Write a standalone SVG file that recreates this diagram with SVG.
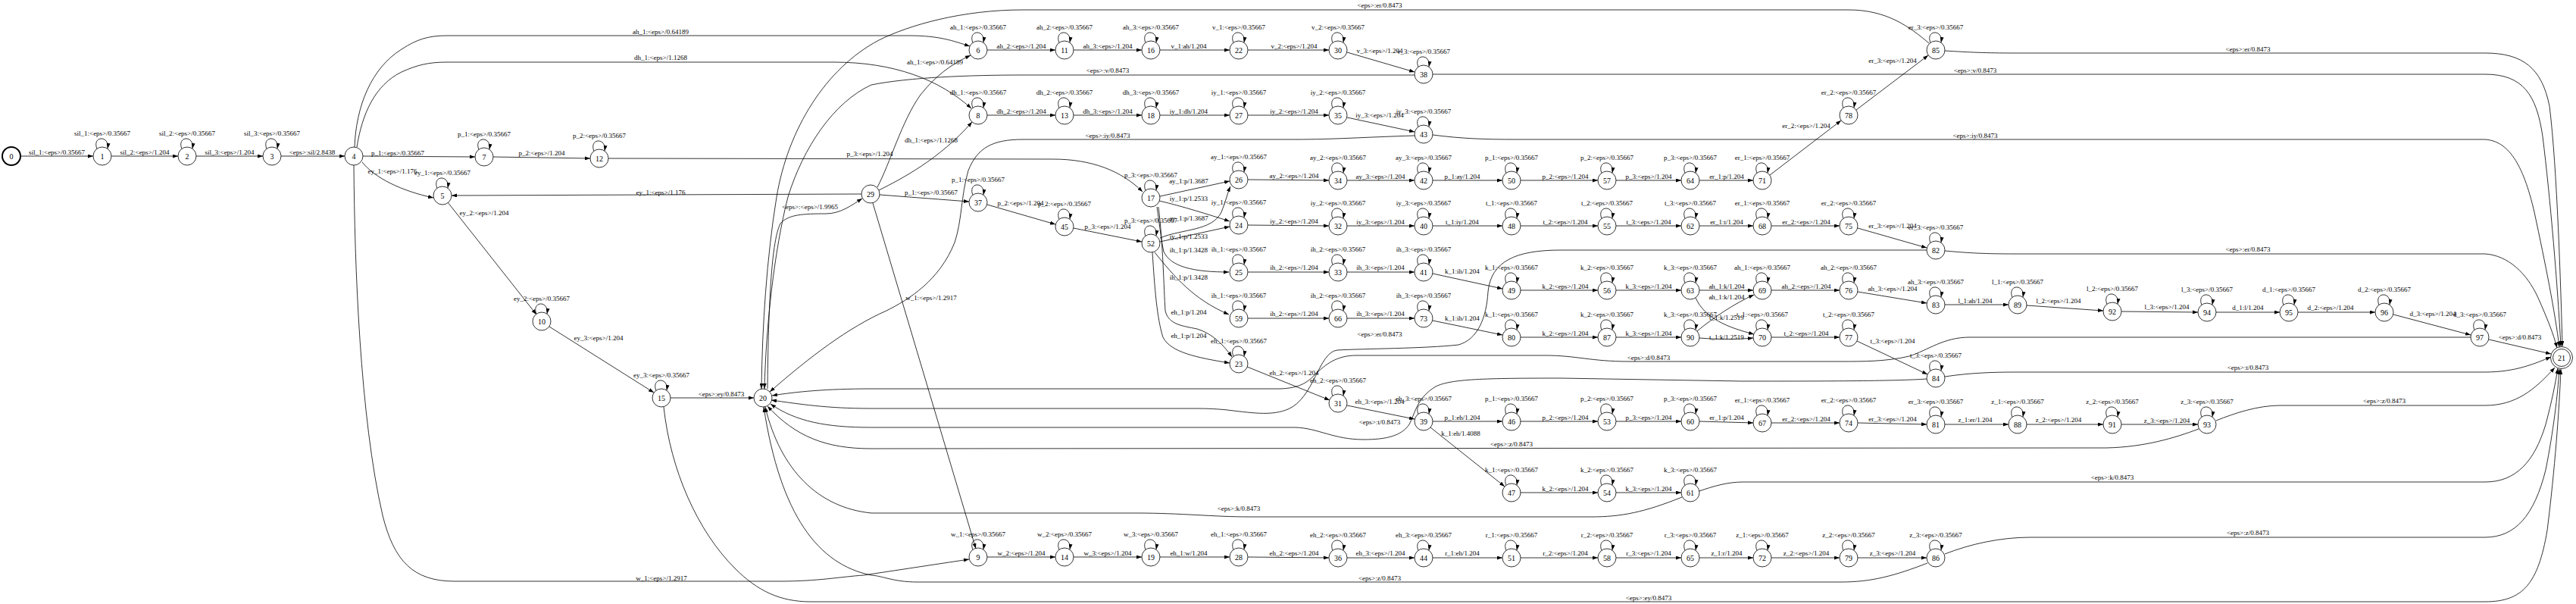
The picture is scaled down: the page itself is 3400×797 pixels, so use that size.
<svg xmlns="http://www.w3.org/2000/svg" width="3400" height="797" viewBox="0 0 3400 797">
<style>
.e{fill:none;stroke:#000;stroke-width:0.8;marker-end:url(#ah)}
.n{fill:#fff;stroke:#000;stroke-width:0.8}
text{font-family:"Liberation Serif","Times New Roman",serif;font-size:9px;text-anchor:middle;fill:#000}
.nt{font-size:10px}
</style>
<defs>
<marker id="ah" viewBox="0 0 7 5" refX="7" refY="2.5" markerWidth="7" markerHeight="5" markerUnits="userSpaceOnUse" orient="auto"><path d="M0,0 L7,2.5 L0,5 z" fill="#000"/></marker>
<path id="lp" class="e" d="M-7,-9.5 C-14,-27 10,-28 7,-10"/>
</defs>
<rect width="3400" height="797" fill="#fff"/>
<g id="connectors">
<path class="e" d="M27,206 L123,206"/>
<path class="e" d="M147,206 L235,206"/>
<path class="e" d="M259,206 L347,206"/>
<path class="e" d="M371,206 L455,206"/>
<path class="e" d="M479,206 L627,207"/>
<path class="e" d="M478,214 C495,235 530,252 572,261"/>
<path class="e" d="M468,194 C470,140 490,90 530,65 C550,52 565,47 590,47 L1200,47 C1240,47 1258,54 1280,61"/>
<path class="e" d="M471,194 C478,150 495,112 530,95 C550,86 565,82 590,82 L1100,82 C1180,82 1240,105 1282,143"/>
<path class="e" d="M651,207 L779,209"/>
<path class="e" d="M803,209 L1390,210 C1440,210 1480,225 1508,253"/>
<path class="e" d="M467,218 C468,350 475,550 505,680 C520,740 545,767 600,767 L1030,767 C1080,767 1110,761 1140,759 L1279,738"/>
<path class="e" d="M1137,256 L596,258"/>
<path class="e" d="M591,267 L708,415"/>
<path class="e" d="M725,431 L863,518"/>
<path class="e" d="M885,525 L995,525"/>
<path class="e" d="M1013,513 C1014,420 1017,320 1030,295 C1040,283 1060,282 1090,282 C1110,282 1125,270 1138,262"/>
<path class="e" d="M1158,247 C1175,215 1190,160 1215,125 C1235,100 1255,85 1281,73"/>
<path class="e" d="M1160,251 C1190,236 1240,210 1283,161"/>
<path class="e" d="M1161,257 L1279,266"/>
<path class="e" d="M1152,268 L1288,724"/>
<path class="e" d="M1303,66 L1393,66"/>
<path class="e" d="M1417,66 L1507,66"/>
<path class="e" d="M1531,66 L1623,66"/>
<path class="e" d="M1647,66 L1754,66"/>
<path class="e" d="M1778,69 L1867,95"/>
<path class="e" d="M1303,152 L1393,152"/>
<path class="e" d="M1417,152 L1507,152"/>
<path class="e" d="M1531,152 L1623,152"/>
<path class="e" d="M1647,152 L1754,152"/>
<path class="e" d="M1778,155 L1867,174"/>
<path class="e" d="M1303,270 L1393,296"/>
<path class="e" d="M1417,301 L1507,319"/>
<path class="e" d="M1531,259 L1623,239"/>
<path class="e" d="M1530,265 C1560,272 1595,283 1623,292"/>
<path class="e" d="M1531,314 C1560,302 1600,305 1612,280 C1618,265 1620,255 1624,246"/>
<path class="e" d="M1531,319 L1623,299"/>
<path class="e" d="M1527,273 C1531,300 1533,320 1536,332 C1545,352 1575,359 1622,359"/>
<path class="e" d="M1524,333 C1550,365 1575,395 1622,415"/>
<path class="e" d="M1529,273 C1535,320 1536,380 1538,410 C1542,428 1560,430 1580,434 C1600,440 1615,455 1626,471"/>
<path class="e" d="M1521,333 C1524,380 1527,420 1535,445 C1545,465 1580,472 1623,479"/>
<path class="e" d="M1647,237 L1754,238"/>
<path class="e" d="M1647,297 L1754,298"/>
<path class="e" d="M1647,359 L1754,359"/>
<path class="e" d="M1647,420 L1754,420"/>
<path class="e" d="M1646,484 L1755,528"/>
<path class="e" d="M1303,735 L1393,735"/>
<path class="e" d="M1417,735 L1507,735"/>
<path class="e" d="M1531,735 L1623,735"/>
<path class="e" d="M1647,735 L1754,736"/>
<path class="e" d="M1778,238 L1867,238"/>
<path class="e" d="M1891,238 L1983,238"/>
<path class="e" d="M2007,238 L2109,238"/>
<path class="e" d="M2133,238 L2219,238"/>
<path class="e" d="M2243,238 L2314,238"/>
<path class="e" d="M2336,231 L2430,159"/>
<path class="e" d="M2450,145 L2545,73"/>
<path class="e" d="M1778,298 L1867,298"/>
<path class="e" d="M1891,298 L1983,298"/>
<path class="e" d="M2007,298 L2109,298"/>
<path class="e" d="M2133,298 L2219,298"/>
<path class="e" d="M2243,298 L2314,298"/>
<path class="e" d="M2338,298 L2428,298"/>
<path class="e" d="M2452,301 L2543,327"/>
<path class="e" d="M1778,359 L1867,359"/>
<path class="e" d="M1891,361 L1983,381"/>
<path class="e" d="M2007,383 L2109,383"/>
<path class="e" d="M2133,383 L2219,383"/>
<path class="e" d="M2243,383 L2314,383"/>
<path class="e" d="M2240,437 C2260,420 2290,400 2315,389"/>
<path class="e" d="M2238,393 C2250,420 2280,432 2315,441"/>
<path class="e" d="M2243,446 C2270,448 2290,448 2314,446"/>
<path class="e" d="M2338,383 L2428,383"/>
<path class="e" d="M2452,385 L2543,400"/>
<path class="e" d="M2567,402 L2651,402"/>
<path class="e" d="M2675,403 L2776,410"/>
<path class="e" d="M2800,411 L2901,412"/>
<path class="e" d="M2925,412 L3009,412"/>
<path class="e" d="M3033,412 L3135,412"/>
<path class="e" d="M3159,415 L3261,442"/>
<path class="e" d="M3285,448 L3367,467"/>
<path class="e" d="M1778,420 L1867,420"/>
<path class="e" d="M1891,423 L1983,442"/>
<path class="e" d="M2007,445 L2109,445"/>
<path class="e" d="M2133,445 L2219,445"/>
<path class="e" d="M2338,445 L2428,445"/>
<path class="e" d="M2451,450 L2544,494"/>
<path class="e" d="M1778,535 L1867,553"/>
<path class="e" d="M1891,556 L1983,556"/>
<path class="e" d="M2007,556 L2109,556"/>
<path class="e" d="M2133,556 L2219,556"/>
<path class="e" d="M2243,556 L2314,558"/>
<path class="e" d="M2338,558 L2428,558"/>
<path class="e" d="M2452,558 L2543,560"/>
<path class="e" d="M2567,560 L2651,560"/>
<path class="e" d="M2675,560 L2776,560"/>
<path class="e" d="M2800,560 L2901,560"/>
<path class="e" d="M1888,564 L1986,642"/>
<path class="e" d="M2007,650 L2109,650"/>
<path class="e" d="M2133,650 L2219,650"/>
<path class="e" d="M1778,736 L1867,736"/>
<path class="e" d="M1891,736 L1983,736"/>
<path class="e" d="M2007,736 L2109,736"/>
<path class="e" d="M2133,736 L2219,736"/>
<path class="e" d="M2243,736 L2314,736"/>
<path class="e" d="M2338,736 L2428,736"/>
<path class="e" d="M2452,736 L2543,736"/>
<path class="e" d="M2567,67 C2600,69 2620,70 2660,70 L3280,70 C3330,70 3355,90 3365,140 C3375,220 3380,380 3382,457"/>
<path class="e" d="M1891,98 L3280,98 C3330,98 3348,125 3356,180 C3366,260 3376,380 3380,457"/>
<path class="e" d="M1891,178 C1930,183 1960,184 2000,184 L3280,184 C3310,186 3330,215 3345,280 C3360,350 3372,410 3378,458"/>
<path class="e" d="M2567,331 C2600,334 2620,335 2660,335 L3280,335 C3310,337 3335,360 3350,393 C3362,420 3370,440 3375,459"/>
<path class="e" d="M2567,497 C2600,492 2630,491 2660,491 L3280,491 C3320,491 3345,480 3367,471"/>
<path class="e" d="M2925,555 C2950,545 2980,535 3010,535 L3280,535 C3320,535 3345,515 3372,485"/>
<path class="e" d="M2243,648 C2260,642 2280,636 2300,636 L3280,636 C3320,636 3345,610 3360,560 C3368,530 3373,505 3376,486"/>
<path class="e" d="M2567,731 C2600,718 2640,709 2680,709 L3280,709 C3320,709 3345,680 3360,620 C3370,570 3376,520 3378,487"/>
<path class="e" d="M876,537 C885,620 920,700 970,750 C1000,780 1030,794 1070,794 L3280,794 C3330,794 3350,770 3362,700 C3372,620 3378,540 3380,487"/>
<path class="e" d="M2546,57 C2520,35 2490,13 2440,13 L1350,13 C1270,13 1200,33 1160,53 C1090,90 1040,170 1025,260 C1012,340 1006,430 1005,513"/>
<path class="e" d="M1867,99 L1350,99 C1280,99 1200,102 1150,112 C1100,135 1060,195 1040,260 C1022,330 1011,430 1009,513"/>
<path class="e" d="M1867,179 C1800,181 1760,184 1710,184 L1350,184 C1310,184 1290,195 1278,225 C1268,260 1270,290 1260,320 C1240,370 1200,395 1170,410 C1120,432 1070,470 1016,517"/>
<path class="e" d="M3261,445 L2600,445 C2565,445 2545,462 2520,470 C2490,477 2460,477 2430,477 L2150,477 C2100,477 2080,469 2040,469 L1790,469 C1765,469 1750,480 1735,495 C1725,505 1715,512 1690,513 L1150,513 C1090,513 1050,517 1019,522"/>
<path class="e" d="M2543,330 L2060,330 C2000,330 1968,345 1964,385 C1962,420 1950,448 1925,455 C1880,460 1800,460 1765,462 C1740,465 1735,525 1700,540 C1680,548 1660,546 1620,541 C1600,539 1590,539 1570,539 L1150,539 C1090,539 1055,533 1018,528"/>
<path class="e" d="M2543,500 C2500,503 2400,503 2300,503 L2060,499 C1960,499 1915,500 1895,510 C1870,525 1868,545 1860,560 C1850,575 1830,580 1800,580 C1760,580 1740,565 1710,564 L1150,564 C1090,564 1050,556 1017,533"/>
<path class="e" d="M2902,566 C2870,578 2830,590 2780,591 L1150,592 C1090,592 1050,576 1013,536"/>
<path class="e" d="M2220,656 C2170,676 2140,682 2100,682 L1650,682 C1600,682 1560,677 1500,677 L1150,677 C1080,670 1030,620 1010,537"/>
<path class="e" d="M2544,743 C2500,760 2470,768 2430,768 L1210,768 C1180,768 1165,760 1150,759 C1080,745 1030,680 1008,537"/>
<use href="#lp" x="135" y="206"/><use href="#lp" x="247" y="206"/><use href="#lp" x="359" y="206"/>
<use href="#lp" x="584" y="258"/><use href="#lp" x="639" y="207"/><use href="#lp" x="791" y="209"/>
<use href="#lp" x="715" y="424"/><use href="#lp" x="873" y="525"/>
<use href="#lp" x="1291" y="66"/><use href="#lp" x="1405" y="66"/><use href="#lp" x="1519" y="66"/><use href="#lp" x="1635" y="66"/>
<use href="#lp" x="1291" y="152"/><use href="#lp" x="1405" y="152"/><use href="#lp" x="1519" y="152"/><use href="#lp" x="1635" y="152"/>
<use href="#lp" x="1291" y="267"/><use href="#lp" x="1405" y="299"/><use href="#lp" x="1519" y="261"/><use href="#lp" x="1519" y="321"/>
<use href="#lp" x="1635" y="237"/><use href="#lp" x="1635" y="297"/><use href="#lp" x="1635" y="359"/><use href="#lp" x="1635" y="420"/><use href="#lp" x="1635" y="480"/>
<use href="#lp" x="1291" y="735"/><use href="#lp" x="1405" y="735"/><use href="#lp" x="1519" y="735"/><use href="#lp" x="1635" y="735"/>
<use href="#lp" x="1766" y="66"/><use href="#lp" x="1879" y="98"/><use href="#lp" x="1766" y="152"/><use href="#lp" x="1879" y="177"/>
<use href="#lp" x="1766" y="238"/><use href="#lp" x="1879" y="238"/><use href="#lp" x="1995" y="238"/><use href="#lp" x="2121" y="238"/><use href="#lp" x="2231" y="238"/><use href="#lp" x="2326" y="238"/><use href="#lp" x="2440" y="152"/><use href="#lp" x="2555" y="66"/>
<use href="#lp" x="1766" y="298"/><use href="#lp" x="1879" y="298"/><use href="#lp" x="1995" y="298"/><use href="#lp" x="2121" y="298"/><use href="#lp" x="2231" y="298"/><use href="#lp" x="2326" y="298"/><use href="#lp" x="2440" y="298"/><use href="#lp" x="2555" y="330"/>
<use href="#lp" x="1766" y="359"/><use href="#lp" x="1879" y="359"/><use href="#lp" x="1995" y="383"/><use href="#lp" x="2121" y="383"/><use href="#lp" x="2231" y="383"/><use href="#lp" x="2326" y="383"/><use href="#lp" x="2440" y="383"/><use href="#lp" x="2555" y="402"/><use href="#lp" x="2663" y="402"/><use href="#lp" x="2788" y="411"/><use href="#lp" x="2913" y="412"/><use href="#lp" x="3021" y="412"/><use href="#lp" x="3147" y="412"/><use href="#lp" x="3273" y="445"/>
<use href="#lp" x="1766" y="420"/><use href="#lp" x="1879" y="420"/><use href="#lp" x="1995" y="445"/><use href="#lp" x="2121" y="445"/><use href="#lp" x="2231" y="445"/><use href="#lp" x="2326" y="445"/><use href="#lp" x="2440" y="445"/><use href="#lp" x="2555" y="499"/>
<use href="#lp" x="1766" y="532"/><use href="#lp" x="1879" y="556"/><use href="#lp" x="1995" y="556"/><use href="#lp" x="2121" y="556"/><use href="#lp" x="2231" y="556"/><use href="#lp" x="2326" y="558"/><use href="#lp" x="2440" y="558"/><use href="#lp" x="2555" y="560"/><use href="#lp" x="2663" y="560"/><use href="#lp" x="2788" y="560"/><use href="#lp" x="2913" y="560"/>
<use href="#lp" x="1995" y="650"/><use href="#lp" x="2121" y="650"/><use href="#lp" x="2231" y="650"/>
<use href="#lp" x="1766" y="736"/><use href="#lp" x="1879" y="736"/><use href="#lp" x="1995" y="736"/><use href="#lp" x="2121" y="736"/><use href="#lp" x="2231" y="736"/><use href="#lp" x="2326" y="736"/><use href="#lp" x="2440" y="736"/><use href="#lp" x="2555" y="736"/>
<text x="75" y="204">sil_1:&lt;eps&gt;/0.35667</text>
<text x="191" y="204">sil_2:&lt;eps&gt;/1.204</text>
<text x="303" y="204">sil_3:&lt;eps&gt;/1.204</text>
<text x="412" y="204">&lt;eps&gt;:sil/2.8438</text>
<text x="525" y="205">p_1:&lt;eps&gt;/0.35667</text>
<text x="518" y="229">ey_1:&lt;eps&gt;/1.176</text>
<text x="872" y="45">ah_1:&lt;eps&gt;/0.64189</text>
<text x="872" y="79">dh_1:&lt;eps&gt;/1.1268</text>
<text x="715" y="205">p_2:&lt;eps&gt;/1.204</text>
<text x="1148" y="206">p_3:&lt;eps&gt;/1.204</text>
<text x="873" y="766">w_1:&lt;eps&gt;/1.2917</text>
<text x="872" y="257">ey_1:&lt;eps&gt;/1.176</text>
<text x="639" y="284">ey_2:&lt;eps&gt;/1.204</text>
<text x="790" y="449">ey_3:&lt;eps&gt;/1.204</text>
<text x="952" y="523">&lt;eps&gt;:ey/0.8473</text>
<text x="1069" y="276">&lt;eps&gt;:&lt;eps&gt;/1.9965</text>
<text x="1234" y="85">ah_1:&lt;eps&gt;/0.64189</text>
<text x="1229" y="188">dh_1:&lt;eps&gt;/1.1268</text>
<text x="1229" y="257">p_1:&lt;eps&gt;/0.35667</text>
<text x="1229" y="396">w_1:&lt;eps&gt;/1.2917</text>
<text x="1348" y="64">ah_2:&lt;eps&gt;/1.204</text>
<text x="1462" y="64">ah_3:&lt;eps&gt;/1.204</text>
<text x="1569" y="64">v_1:ah/1.204</text>
<text x="1708" y="64">v_2:&lt;eps&gt;/1.204</text>
<text x="1821" y="70">v_3:&lt;eps&gt;/1.204</text>
<text x="1348" y="150">dh_2:&lt;eps&gt;/1.204</text>
<text x="1462" y="150">dh_3:&lt;eps&gt;/1.204</text>
<text x="1569" y="150">iy_1:dh/1.204</text>
<text x="1708" y="150">iy_2:&lt;eps&gt;/1.204</text>
<text x="1821" y="155">iy_3:&lt;eps&gt;/1.204</text>
<text x="1347" y="271">p_2:&lt;eps&gt;/1.204</text>
<text x="1462" y="302">p_3:&lt;eps&gt;/1.204</text>
<text x="1569" y="242">ay_1:p/1.3687</text>
<text x="1569" y="265">iy_1:p/1.2533</text>
<text x="1569" y="291">ay_1:p/1.3687</text>
<text x="1569" y="315">iy_1:p/1.2533</text>
<text x="1569" y="333">ih_1:p/1.3428</text>
<text x="1569" y="369">ih_1:p/1.3428</text>
<text x="1569" y="415">eh_1:p/1.204</text>
<text x="1569" y="446">eh_1:p/1.204</text>
<text x="1708" y="235">ay_2:&lt;eps&gt;/1.204</text>
<text x="1708" y="295">iy_2:&lt;eps&gt;/1.204</text>
<text x="1708" y="356">ih_2:&lt;eps&gt;/1.204</text>
<text x="1708" y="417">ih_2:&lt;eps&gt;/1.204</text>
<text x="1708" y="495">eh_2:&lt;eps&gt;/1.204</text>
<text x="1348" y="733">w_2:&lt;eps&gt;/1.204</text>
<text x="1462" y="733">w_3:&lt;eps&gt;/1.204</text>
<text x="1569" y="733">eh_1:w/1.204</text>
<text x="1708" y="733">eh_2:&lt;eps&gt;/1.204</text>
<text x="1822" y="236">ay_3:&lt;eps&gt;/1.204</text>
<text x="1930" y="236">p_1:ay/1.204</text>
<text x="2066" y="236">p_2:&lt;eps&gt;/1.204</text>
<text x="2176" y="236">p_3:&lt;eps&gt;/1.204</text>
<text x="2279" y="236">er_1:p/1.204</text>
<text x="2384" y="169">er_2:&lt;eps&gt;/1.204</text>
<text x="2498" y="83">er_3:&lt;eps&gt;/1.204</text>
<text x="1822" y="296">iy_3:&lt;eps&gt;/1.204</text>
<text x="1930" y="296">t_1:iy/1.204</text>
<text x="2066" y="296">t_2:&lt;eps&gt;/1.204</text>
<text x="2176" y="296">t_3:&lt;eps&gt;/1.204</text>
<text x="2279" y="296">er_1:t/1.204</text>
<text x="2384" y="296">er_2:&lt;eps&gt;/1.204</text>
<text x="2498" y="301">er_3:&lt;eps&gt;/1.204</text>
<text x="1822" y="356">ih_3:&lt;eps&gt;/1.204</text>
<text x="1930" y="361">k_1:ih/1.204</text>
<text x="2066" y="381">k_2:&lt;eps&gt;/1.204</text>
<text x="2176" y="381">k_3:&lt;eps&gt;/1.204</text>
<text x="2279" y="381">ah_1:k/1.204</text>
<text x="2279" y="395">ah_1:k/1.204</text>
<text x="2279" y="422">t_1:k/1.2519</text>
<text x="2279" y="448">t_1:k/1.2519</text>
<text x="2384" y="381">ah_2:&lt;eps&gt;/1.204</text>
<text x="2498" y="384">ah_3:&lt;eps&gt;/1.204</text>
<text x="2607" y="400">l_1:ah/1.204</text>
<text x="2717" y="400">l_2:&lt;eps&gt;/1.204</text>
<text x="2860" y="408">l_3:&lt;eps&gt;/1.204</text>
<text x="2967" y="409">d_1:l/1.204</text>
<text x="3076" y="409">d_2:&lt;eps&gt;/1.204</text>
<text x="3211" y="417">d_3:&lt;eps&gt;/1.204</text>
<text x="3326" y="448">&lt;eps&gt;:d/0.8473</text>
<text x="1822" y="417">ih_3:&lt;eps&gt;/1.204</text>
<text x="1930" y="423">k_1:ih/1.204</text>
<text x="2066" y="443">k_2:&lt;eps&gt;/1.204</text>
<text x="2176" y="443">k_3:&lt;eps&gt;/1.204</text>
<text x="2384" y="443">t_2:&lt;eps&gt;/1.204</text>
<text x="2498" y="453">t_3:&lt;eps&gt;/1.204</text>
<text x="1821" y="533">eh_3:&lt;eps&gt;/1.204</text>
<text x="1930" y="554">p_1:eh/1.204</text>
<text x="2066" y="554">p_2:&lt;eps&gt;/1.204</text>
<text x="2176" y="554">p_3:&lt;eps&gt;/1.204</text>
<text x="2279" y="554">er_1:p/1.204</text>
<text x="2384" y="556">er_2:&lt;eps&gt;/1.204</text>
<text x="2498" y="556">er_3:&lt;eps&gt;/1.204</text>
<text x="2607" y="557">z_1:er/1.204</text>
<text x="2717" y="557">z_2:&lt;eps&gt;/1.204</text>
<text x="2860" y="558">z_3:&lt;eps&gt;/1.204</text>
<text x="1928" y="575">k_1:eh/1.4088</text>
<text x="2066" y="648">k_2:&lt;eps&gt;/1.204</text>
<text x="2176" y="648">k_3:&lt;eps&gt;/1.204</text>
<text x="1822" y="733">eh_3:&lt;eps&gt;/1.204</text>
<text x="1930" y="733">r_1:eh/1.204</text>
<text x="2066" y="733">r_2:&lt;eps&gt;/1.204</text>
<text x="2176" y="733">r_3:&lt;eps&gt;/1.204</text>
<text x="2279" y="733">z_1:r/1.204</text>
<text x="2384" y="733">z_2:&lt;eps&gt;/1.204</text>
<text x="2498" y="733">z_3:&lt;eps&gt;/1.204</text>
<text x="1821" y="10">&lt;eps&gt;:er/0.8473</text>
<text x="1462" y="96">&lt;eps&gt;:v/0.8473</text>
<text x="1462" y="182">&lt;eps&gt;:iy/0.8473</text>
<text x="2967" y="68">&lt;eps&gt;:er/0.8473</text>
<text x="2607" y="96">&lt;eps&gt;:v/0.8473</text>
<text x="2607" y="182">&lt;eps&gt;:iy/0.8473</text>
<text x="2967" y="332">&lt;eps&gt;:er/0.8473</text>
<text x="1821" y="444">&lt;eps&gt;:er/0.8473</text>
<text x="2176" y="475">&lt;eps&gt;:d/0.8473</text>
<text x="1821" y="560">&lt;eps&gt;:t/0.8473</text>
<text x="2967" y="488">&lt;eps&gt;:t/0.8473</text>
<text x="1995" y="589">&lt;eps&gt;:z/0.8473</text>
<text x="3147" y="532">&lt;eps&gt;:z/0.8473</text>
<text x="1635" y="674">&lt;eps&gt;:k/0.8473</text>
<text x="2788" y="633">&lt;eps&gt;:k/0.8473</text>
<text x="1821" y="766">&lt;eps&gt;:z/0.8473</text>
<text x="2967" y="706">&lt;eps&gt;:z/0.8473</text>
<text x="2176" y="792">&lt;eps&gt;:ey/0.8473</text>
<text x="135" y="179">sil_1:&lt;eps&gt;/0.35667</text>
<text x="247" y="179">sil_2:&lt;eps&gt;/0.35667</text>
<text x="359" y="179">sil_3:&lt;eps&gt;/0.35667</text>
<text x="584" y="231">ey_1:&lt;eps&gt;/0.35667</text>
<text x="639" y="180">p_1:&lt;eps&gt;/0.35667</text>
<text x="791" y="182">p_2:&lt;eps&gt;/0.35667</text>
<text x="715" y="397">ey_2:&lt;eps&gt;/0.35667</text>
<text x="873" y="498">ey_3:&lt;eps&gt;/0.35667</text>
<text x="1291" y="39">ah_1:&lt;eps&gt;/0.35667</text>
<text x="1405" y="39">ah_2:&lt;eps&gt;/0.35667</text>
<text x="1519" y="39">ah_3:&lt;eps&gt;/0.35667</text>
<text x="1635" y="39">v_1:&lt;eps&gt;/0.35667</text>
<text x="1291" y="125">dh_1:&lt;eps&gt;/0.35667</text>
<text x="1405" y="125">dh_2:&lt;eps&gt;/0.35667</text>
<text x="1519" y="125">dh_3:&lt;eps&gt;/0.35667</text>
<text x="1635" y="125">iy_1:&lt;eps&gt;/0.35667</text>
<text x="1291" y="240">p_1:&lt;eps&gt;/0.35667</text>
<text x="1405" y="272">p_2:&lt;eps&gt;/0.35667</text>
<text x="1519" y="234">p_3:&lt;eps&gt;/0.35667</text>
<text x="1519" y="294">p_3:&lt;eps&gt;/0.35667</text>
<text x="1635" y="210">ay_1:&lt;eps&gt;/0.35667</text>
<text x="1635" y="270">iy_1:&lt;eps&gt;/0.35667</text>
<text x="1635" y="332">ih_1:&lt;eps&gt;/0.35667</text>
<text x="1635" y="393">ih_1:&lt;eps&gt;/0.35667</text>
<text x="1635" y="453">eh_1:&lt;eps&gt;/0.35667</text>
<text x="1291" y="708">w_1:&lt;eps&gt;/0.35667</text>
<text x="1405" y="708">w_2:&lt;eps&gt;/0.35667</text>
<text x="1519" y="708">w_3:&lt;eps&gt;/0.35667</text>
<text x="1635" y="708">eh_1:&lt;eps&gt;/0.35667</text>
<text x="1766" y="39">v_2:&lt;eps&gt;/0.35667</text>
<text x="1879" y="71">v_3:&lt;eps&gt;/0.35667</text>
<text x="1766" y="125">iy_2:&lt;eps&gt;/0.35667</text>
<text x="1879" y="150">iy_3:&lt;eps&gt;/0.35667</text>
<text x="1766" y="211">ay_2:&lt;eps&gt;/0.35667</text>
<text x="1879" y="211">ay_3:&lt;eps&gt;/0.35667</text>
<text x="1995" y="211">p_1:&lt;eps&gt;/0.35667</text>
<text x="2121" y="211">p_2:&lt;eps&gt;/0.35667</text>
<text x="2231" y="211">p_3:&lt;eps&gt;/0.35667</text>
<text x="2326" y="211">er_1:&lt;eps&gt;/0.35667</text>
<text x="2440" y="125">er_2:&lt;eps&gt;/0.35667</text>
<text x="2555" y="39">er_3:&lt;eps&gt;/0.35667</text>
<text x="1766" y="271">iy_2:&lt;eps&gt;/0.35667</text>
<text x="1879" y="271">iy_3:&lt;eps&gt;/0.35667</text>
<text x="1995" y="271">t_1:&lt;eps&gt;/0.35667</text>
<text x="2121" y="271">t_2:&lt;eps&gt;/0.35667</text>
<text x="2231" y="271">t_3:&lt;eps&gt;/0.35667</text>
<text x="2326" y="271">er_1:&lt;eps&gt;/0.35667</text>
<text x="2440" y="271">er_2:&lt;eps&gt;/0.35667</text>
<text x="2555" y="303">er_3:&lt;eps&gt;/0.35667</text>
<text x="1766" y="332">ih_2:&lt;eps&gt;/0.35667</text>
<text x="1879" y="332">ih_3:&lt;eps&gt;/0.35667</text>
<text x="1995" y="356">k_1:&lt;eps&gt;/0.35667</text>
<text x="2121" y="356">k_2:&lt;eps&gt;/0.35667</text>
<text x="2231" y="356">k_3:&lt;eps&gt;/0.35667</text>
<text x="2326" y="356">ah_1:&lt;eps&gt;/0.35667</text>
<text x="2440" y="356">ah_2:&lt;eps&gt;/0.35667</text>
<text x="2555" y="375">ah_3:&lt;eps&gt;/0.35667</text>
<text x="2663" y="375">l_1:&lt;eps&gt;/0.35667</text>
<text x="2788" y="384">l_2:&lt;eps&gt;/0.35667</text>
<text x="2913" y="385">l_3:&lt;eps&gt;/0.35667</text>
<text x="3021" y="385">d_1:&lt;eps&gt;/0.35667</text>
<text x="3147" y="385">d_2:&lt;eps&gt;/0.35667</text>
<text x="3273" y="418">d_3:&lt;eps&gt;/0.35667</text>
<text x="1766" y="393">ih_2:&lt;eps&gt;/0.35667</text>
<text x="1879" y="393">ih_3:&lt;eps&gt;/0.35667</text>
<text x="1995" y="418">k_1:&lt;eps&gt;/0.35667</text>
<text x="2121" y="418">k_2:&lt;eps&gt;/0.35667</text>
<text x="2231" y="418">k_3:&lt;eps&gt;/0.35667</text>
<text x="2326" y="418">t_1:&lt;eps&gt;/0.35667</text>
<text x="2440" y="418">t_2:&lt;eps&gt;/0.35667</text>
<text x="2555" y="472">t_3:&lt;eps&gt;/0.35667</text>
<text x="1766" y="505">eh_2:&lt;eps&gt;/0.35667</text>
<text x="1879" y="529">eh_3:&lt;eps&gt;/0.35667</text>
<text x="1995" y="529">p_1:&lt;eps&gt;/0.35667</text>
<text x="2121" y="529">p_2:&lt;eps&gt;/0.35667</text>
<text x="2231" y="529">p_3:&lt;eps&gt;/0.35667</text>
<text x="2326" y="531">er_1:&lt;eps&gt;/0.35667</text>
<text x="2440" y="531">er_2:&lt;eps&gt;/0.35667</text>
<text x="2555" y="533">er_3:&lt;eps&gt;/0.35667</text>
<text x="2663" y="533">z_1:&lt;eps&gt;/0.35667</text>
<text x="2788" y="533">z_2:&lt;eps&gt;/0.35667</text>
<text x="2913" y="533">z_3:&lt;eps&gt;/0.35667</text>
<text x="1995" y="623">k_1:&lt;eps&gt;/0.35667</text>
<text x="2121" y="623">k_2:&lt;eps&gt;/0.35667</text>
<text x="2231" y="623">k_3:&lt;eps&gt;/0.35667</text>
<text x="1766" y="709">eh_2:&lt;eps&gt;/0.35667</text>
<text x="1879" y="709">eh_3:&lt;eps&gt;/0.35667</text>
<text x="1995" y="709">r_1:&lt;eps&gt;/0.35667</text>
<text x="2121" y="709">r_2:&lt;eps&gt;/0.35667</text>
<text x="2231" y="709">r_3:&lt;eps&gt;/0.35667</text>
<text x="2326" y="709">z_1:&lt;eps&gt;/0.35667</text>
<text x="2440" y="709">z_2:&lt;eps&gt;/0.35667</text>
<text x="2555" y="709">z_3:&lt;eps&gt;/0.35667</text>
</g>
<g id="n0"><circle class="n" cx="15" cy="206" r="12" style="stroke-width:2"/><text class="nt" x="15" y="209.5">0</text></g>
<g id="n1"><circle class="n" cx="135" cy="206" r="12"/><text class="nt" x="135" y="209.5">1</text></g>
<g id="n2"><circle class="n" cx="247" cy="206" r="12"/><text class="nt" x="247" y="209.5">2</text></g>
<g id="n3"><circle class="n" cx="359" cy="206" r="12"/><text class="nt" x="359" y="209.5">3</text></g>
<g id="n4"><circle class="n" cx="467" cy="206" r="12"/><text class="nt" x="467" y="209.5">4</text></g>
<g id="n5"><circle class="n" cx="584" cy="258" r="12"/><text class="nt" x="584" y="261.5">5</text></g>
<g id="n6"><circle class="n" cx="1291" cy="66" r="12"/><text class="nt" x="1291" y="69.5">6</text></g>
<g id="n7"><circle class="n" cx="639" cy="207" r="12"/><text class="nt" x="639" y="210.5">7</text></g>
<g id="n8"><circle class="n" cx="1291" cy="152" r="12"/><text class="nt" x="1291" y="155.5">8</text></g>
<g id="n9"><circle class="n" cx="1291" cy="735" r="12"/><text class="nt" x="1291" y="738.5">9</text></g>
<g id="n10"><circle class="n" cx="715" cy="424" r="12"/><text class="nt" x="715" y="427.5">10</text></g>
<g id="n11"><circle class="n" cx="1405" cy="66" r="12"/><text class="nt" x="1405" y="69.5">11</text></g>
<g id="n12"><circle class="n" cx="791" cy="209" r="12"/><text class="nt" x="791" y="212.5">12</text></g>
<g id="n13"><circle class="n" cx="1405" cy="152" r="12"/><text class="nt" x="1405" y="155.5">13</text></g>
<g id="n14"><circle class="n" cx="1405" cy="735" r="12"/><text class="nt" x="1405" y="738.5">14</text></g>
<g id="n15"><circle class="n" cx="873" cy="525" r="12"/><text class="nt" x="873" y="528.5">15</text></g>
<g id="n16"><circle class="n" cx="1519" cy="66" r="12"/><text class="nt" x="1519" y="69.5">16</text></g>
<g id="n17"><circle class="n" cx="1519" cy="261" r="12"/><text class="nt" x="1519" y="264.5">17</text></g>
<g id="n18"><circle class="n" cx="1519" cy="152" r="12"/><text class="nt" x="1519" y="155.5">18</text></g>
<g id="n19"><circle class="n" cx="1519" cy="735" r="12"/><text class="nt" x="1519" y="738.5">19</text></g>
<g id="n20"><circle class="n" cx="1007" cy="525" r="12"/><text class="nt" x="1007" y="528.5">20</text></g>
<g id="n21"><circle class="n" cx="3381" cy="472" r="14.5"/><circle class="n" cx="3381" cy="472" r="11.5"/><text class="nt" x="3381" y="475.5">21</text></g>
<g id="n22"><circle class="n" cx="1635" cy="66" r="12"/><text class="nt" x="1635" y="69.5">22</text></g>
<g id="n23"><circle class="n" cx="1635" cy="480" r="12"/><text class="nt" x="1635" y="483.5">23</text></g>
<g id="n24"><circle class="n" cx="1635" cy="297" r="12"/><text class="nt" x="1635" y="300.5">24</text></g>
<g id="n25"><circle class="n" cx="1635" cy="359" r="12"/><text class="nt" x="1635" y="362.5">25</text></g>
<g id="n26"><circle class="n" cx="1635" cy="237" r="12"/><text class="nt" x="1635" y="240.5">26</text></g>
<g id="n27"><circle class="n" cx="1635" cy="152" r="12"/><text class="nt" x="1635" y="155.5">27</text></g>
<g id="n28"><circle class="n" cx="1635" cy="735" r="12"/><text class="nt" x="1635" y="738.5">28</text></g>
<g id="n29"><circle class="n" cx="1149" cy="256" r="12"/><text class="nt" x="1149" y="259.5">29</text></g>
<g id="n30"><circle class="n" cx="1766" cy="66" r="12"/><text class="nt" x="1766" y="69.5">30</text></g>
<g id="n31"><circle class="n" cx="1766" cy="532" r="12"/><text class="nt" x="1766" y="535.5">31</text></g>
<g id="n32"><circle class="n" cx="1766" cy="298" r="12"/><text class="nt" x="1766" y="301.5">32</text></g>
<g id="n33"><circle class="n" cx="1766" cy="359" r="12"/><text class="nt" x="1766" y="362.5">33</text></g>
<g id="n34"><circle class="n" cx="1766" cy="238" r="12"/><text class="nt" x="1766" y="241.5">34</text></g>
<g id="n35"><circle class="n" cx="1766" cy="152" r="12"/><text class="nt" x="1766" y="155.5">35</text></g>
<g id="n36"><circle class="n" cx="1766" cy="736" r="12"/><text class="nt" x="1766" y="739.5">36</text></g>
<g id="n37"><circle class="n" cx="1291" cy="267" r="12"/><text class="nt" x="1291" y="270.5">37</text></g>
<g id="n38"><circle class="n" cx="1879" cy="98" r="12"/><text class="nt" x="1879" y="101.5">38</text></g>
<g id="n39"><circle class="n" cx="1879" cy="556" r="12"/><text class="nt" x="1879" y="559.5">39</text></g>
<g id="n40"><circle class="n" cx="1879" cy="298" r="12"/><text class="nt" x="1879" y="301.5">40</text></g>
<g id="n41"><circle class="n" cx="1879" cy="359" r="12"/><text class="nt" x="1879" y="362.5">41</text></g>
<g id="n42"><circle class="n" cx="1879" cy="238" r="12"/><text class="nt" x="1879" y="241.5">42</text></g>
<g id="n43"><circle class="n" cx="1879" cy="177" r="12"/><text class="nt" x="1879" y="180.5">43</text></g>
<g id="n44"><circle class="n" cx="1879" cy="736" r="12"/><text class="nt" x="1879" y="739.5">44</text></g>
<g id="n45"><circle class="n" cx="1405" cy="299" r="12"/><text class="nt" x="1405" y="302.5">45</text></g>
<g id="n46"><circle class="n" cx="1995" cy="556" r="12"/><text class="nt" x="1995" y="559.5">46</text></g>
<g id="n47"><circle class="n" cx="1995" cy="650" r="12"/><text class="nt" x="1995" y="653.5">47</text></g>
<g id="n48"><circle class="n" cx="1995" cy="298" r="12"/><text class="nt" x="1995" y="301.5">48</text></g>
<g id="n49"><circle class="n" cx="1995" cy="383" r="12"/><text class="nt" x="1995" y="386.5">49</text></g>
<g id="n50"><circle class="n" cx="1995" cy="238" r="12"/><text class="nt" x="1995" y="241.5">50</text></g>
<g id="n51"><circle class="n" cx="1995" cy="736" r="12"/><text class="nt" x="1995" y="739.5">51</text></g>
<g id="n52"><circle class="n" cx="1519" cy="321" r="12"/><text class="nt" x="1519" y="324.5">52</text></g>
<g id="n53"><circle class="n" cx="2121" cy="556" r="12"/><text class="nt" x="2121" y="559.5">53</text></g>
<g id="n54"><circle class="n" cx="2121" cy="650" r="12"/><text class="nt" x="2121" y="653.5">54</text></g>
<g id="n55"><circle class="n" cx="2121" cy="298" r="12"/><text class="nt" x="2121" y="301.5">55</text></g>
<g id="n56"><circle class="n" cx="2121" cy="383" r="12"/><text class="nt" x="2121" y="386.5">56</text></g>
<g id="n57"><circle class="n" cx="2121" cy="238" r="12"/><text class="nt" x="2121" y="241.5">57</text></g>
<g id="n58"><circle class="n" cx="2121" cy="736" r="12"/><text class="nt" x="2121" y="739.5">58</text></g>
<g id="n59"><circle class="n" cx="1635" cy="420" r="12"/><text class="nt" x="1635" y="423.5">59</text></g>
<g id="n60"><circle class="n" cx="2231" cy="556" r="12"/><text class="nt" x="2231" y="559.5">60</text></g>
<g id="n61"><circle class="n" cx="2231" cy="650" r="12"/><text class="nt" x="2231" y="653.5">61</text></g>
<g id="n62"><circle class="n" cx="2231" cy="298" r="12"/><text class="nt" x="2231" y="301.5">62</text></g>
<g id="n63"><circle class="n" cx="2231" cy="383" r="12"/><text class="nt" x="2231" y="386.5">63</text></g>
<g id="n64"><circle class="n" cx="2231" cy="238" r="12"/><text class="nt" x="2231" y="241.5">64</text></g>
<g id="n65"><circle class="n" cx="2231" cy="736" r="12"/><text class="nt" x="2231" y="739.5">65</text></g>
<g id="n66"><circle class="n" cx="1766" cy="420" r="12"/><text class="nt" x="1766" y="423.5">66</text></g>
<g id="n67"><circle class="n" cx="2326" cy="558" r="12"/><text class="nt" x="2326" y="561.5">67</text></g>
<g id="n68"><circle class="n" cx="2326" cy="298" r="12"/><text class="nt" x="2326" y="301.5">68</text></g>
<g id="n69"><circle class="n" cx="2326" cy="383" r="12"/><text class="nt" x="2326" y="386.5">69</text></g>
<g id="n70"><circle class="n" cx="2326" cy="445" r="12"/><text class="nt" x="2326" y="448.5">70</text></g>
<g id="n71"><circle class="n" cx="2326" cy="238" r="12"/><text class="nt" x="2326" y="241.5">71</text></g>
<g id="n72"><circle class="n" cx="2326" cy="736" r="12"/><text class="nt" x="2326" y="739.5">72</text></g>
<g id="n73"><circle class="n" cx="1879" cy="420" r="12"/><text class="nt" x="1879" y="423.5">73</text></g>
<g id="n74"><circle class="n" cx="2440" cy="558" r="12"/><text class="nt" x="2440" y="561.5">74</text></g>
<g id="n75"><circle class="n" cx="2440" cy="298" r="12"/><text class="nt" x="2440" y="301.5">75</text></g>
<g id="n76"><circle class="n" cx="2440" cy="383" r="12"/><text class="nt" x="2440" y="386.5">76</text></g>
<g id="n77"><circle class="n" cx="2440" cy="445" r="12"/><text class="nt" x="2440" y="448.5">77</text></g>
<g id="n78"><circle class="n" cx="2440" cy="152" r="12"/><text class="nt" x="2440" y="155.5">78</text></g>
<g id="n79"><circle class="n" cx="2440" cy="736" r="12"/><text class="nt" x="2440" y="739.5">79</text></g>
<g id="n80"><circle class="n" cx="1995" cy="445" r="12"/><text class="nt" x="1995" y="448.5">80</text></g>
<g id="n81"><circle class="n" cx="2555" cy="560" r="12"/><text class="nt" x="2555" y="563.5">81</text></g>
<g id="n82"><circle class="n" cx="2555" cy="330" r="12"/><text class="nt" x="2555" y="333.5">82</text></g>
<g id="n83"><circle class="n" cx="2555" cy="402" r="12"/><text class="nt" x="2555" y="405.5">83</text></g>
<g id="n84"><circle class="n" cx="2555" cy="499" r="12"/><text class="nt" x="2555" y="502.5">84</text></g>
<g id="n85"><circle class="n" cx="2555" cy="66" r="12"/><text class="nt" x="2555" y="69.5">85</text></g>
<g id="n86"><circle class="n" cx="2555" cy="736" r="12"/><text class="nt" x="2555" y="739.5">86</text></g>
<g id="n87"><circle class="n" cx="2121" cy="445" r="12"/><text class="nt" x="2121" y="448.5">87</text></g>
<g id="n88"><circle class="n" cx="2663" cy="560" r="12"/><text class="nt" x="2663" y="563.5">88</text></g>
<g id="n89"><circle class="n" cx="2663" cy="402" r="12"/><text class="nt" x="2663" y="405.5">89</text></g>
<g id="n90"><circle class="n" cx="2231" cy="445" r="12"/><text class="nt" x="2231" y="448.5">90</text></g>
<g id="n91"><circle class="n" cx="2788" cy="560" r="12"/><text class="nt" x="2788" y="563.5">91</text></g>
<g id="n92"><circle class="n" cx="2788" cy="411" r="12"/><text class="nt" x="2788" y="414.5">92</text></g>
<g id="n93"><circle class="n" cx="2913" cy="560" r="12"/><text class="nt" x="2913" y="563.5">93</text></g>
<g id="n94"><circle class="n" cx="2913" cy="412" r="12"/><text class="nt" x="2913" y="415.5">94</text></g>
<g id="n95"><circle class="n" cx="3021" cy="412" r="12"/><text class="nt" x="3021" y="415.5">95</text></g>
<g id="n96"><circle class="n" cx="3147" cy="412" r="12"/><text class="nt" x="3147" y="415.5">96</text></g>
<g id="n97"><circle class="n" cx="3273" cy="445" r="12"/><text class="nt" x="3273" y="448.5">97</text></g>
</svg>
